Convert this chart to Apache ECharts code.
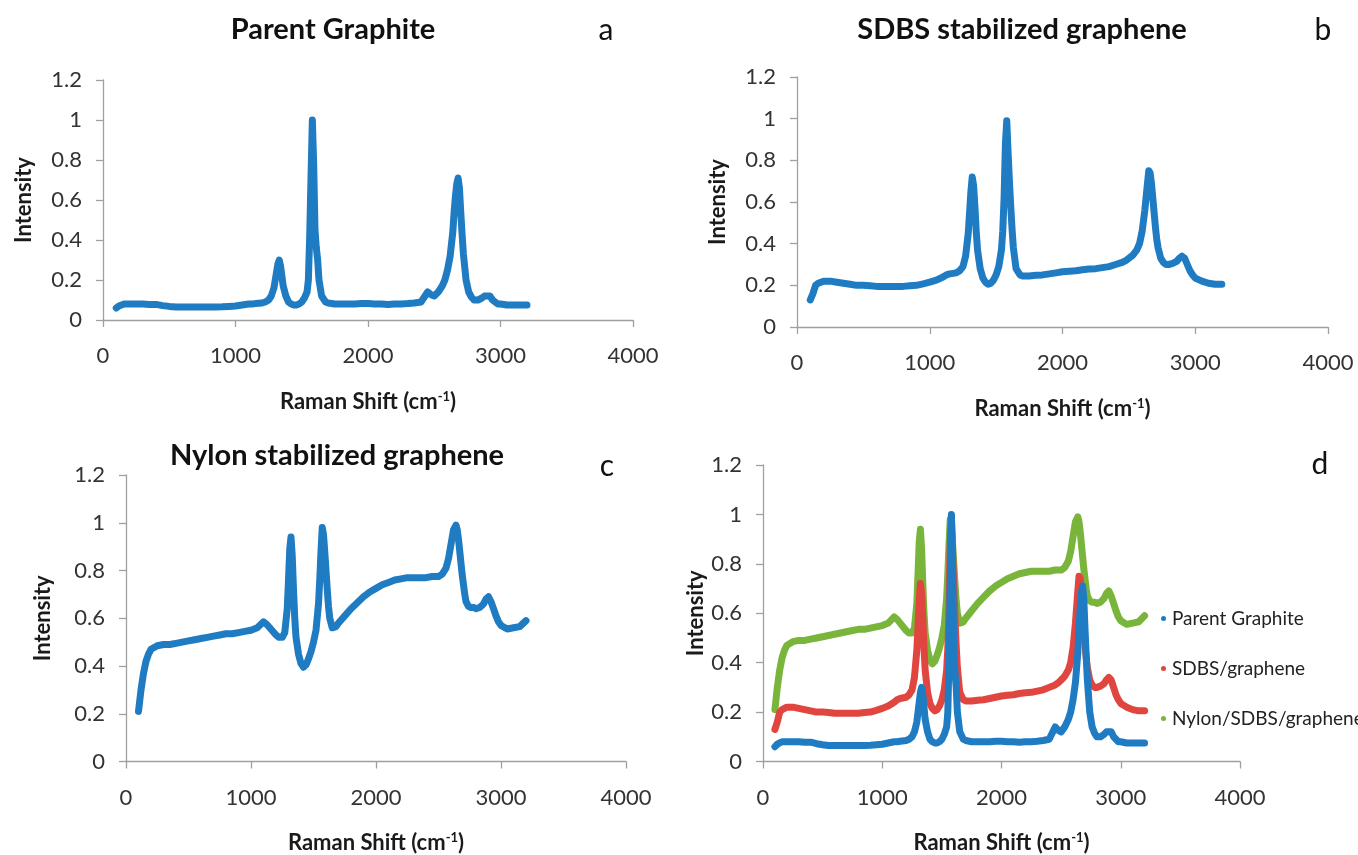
<!DOCTYPE html>
<html>
<head>
<meta charset="utf-8">
<script src="https://cdn.jsdelivr.net/npm/echarts@6/dist/echarts.min.js"></script>
<style>
  html, body { margin: 0; padding: 0; background: #fff; }
  #chart { width: 1358px; height: 855px; }
</style>
</head>
<body>
<div id="chart"></div>
<script>
// Raman shift positions (cm-1) shared by the three spectra
const shift = [
  100, 120, 140, 160, 180, 200, 250, 300, 350, 400, 450, 500, 550, 600, 650, 700, 750, 800, 850, 900,
  950, 1000, 1050, 1100, 1125, 1150, 1200, 1225, 1250, 1270, 1290, 1300, 1310, 1320, 1330, 1340, 1350, 1360, 1380, 1400,
  1420, 1440, 1460, 1480, 1500, 1520, 1540, 1550, 1560, 1570, 1580, 1590, 1600, 1610, 1620, 1630, 1650, 1680, 1700, 1750,
  1800, 1850, 1900, 1950, 2000, 2050, 2100, 2150, 2200, 2250, 2300, 2350, 2400, 2450, 2480, 2500, 2530, 2560, 2580, 2600,
  2620, 2640, 2650, 2660, 2670, 2680, 2690, 2700, 2710, 2720, 2740, 2760, 2780, 2800, 2830, 2860, 2880, 2900, 2920, 2940,
  2960, 2980, 3000, 3050, 3100, 3150, 3200
]

// Parent graphite
const graphite = [
  0.06, 0.07, 0.075, 0.08, 0.08, 0.08, 0.08, 0.08, 0.078, 0.078, 0.072, 0.068, 0.065, 0.065, 0.065, 0.065, 0.065, 0.065, 0.065, 0.066,
  0.068, 0.07, 0.075, 0.08, 0.08, 0.082, 0.085, 0.09, 0.1, 0.12, 0.16, 0.2, 0.24, 0.28, 0.3, 0.27, 0.22, 0.17, 0.12, 0.09,
  0.08, 0.075, 0.075, 0.08, 0.09, 0.11, 0.14, 0.2, 0.42, 0.72, 1.0, 0.78, 0.45, 0.36, 0.3, 0.2, 0.12, 0.09, 0.085, 0.08,
  0.08, 0.08, 0.08, 0.082, 0.082, 0.08, 0.08, 0.078, 0.08, 0.08, 0.082, 0.085, 0.09, 0.14, 0.125, 0.12, 0.14, 0.17, 0.2, 0.25,
  0.32, 0.44, 0.54, 0.62, 0.68, 0.71, 0.66, 0.54, 0.43, 0.33, 0.2, 0.14, 0.115, 0.1, 0.1, 0.11, 0.12, 0.12, 0.12, 0.1,
  0.09, 0.08, 0.08, 0.075, 0.075, 0.075, 0.075
]

// SDBS stabilized graphene
const sdbs = [
  0.13, 0.16, 0.2, 0.21, 0.215, 0.22, 0.22, 0.215, 0.21, 0.205, 0.2, 0.2, 0.198, 0.195, 0.195, 0.195, 0.195, 0.195, 0.198, 0.2,
  0.207, 0.215, 0.225, 0.24, 0.25, 0.255, 0.26, 0.27, 0.29, 0.34, 0.45, 0.55, 0.65, 0.72, 0.68, 0.58, 0.46, 0.37, 0.28, 0.235,
  0.215, 0.205, 0.21, 0.225, 0.25, 0.29, 0.37, 0.46, 0.62, 0.88, 0.99, 0.84, 0.7, 0.58, 0.47, 0.38, 0.28, 0.25, 0.245, 0.245,
  0.248, 0.25, 0.255, 0.26, 0.265, 0.268, 0.27, 0.275, 0.278, 0.28, 0.285, 0.29, 0.3, 0.31, 0.32, 0.33, 0.345, 0.37, 0.4, 0.46,
  0.56, 0.69, 0.75, 0.74, 0.69, 0.62, 0.55, 0.48, 0.42, 0.38, 0.33, 0.31, 0.3, 0.3, 0.305, 0.315, 0.33, 0.34, 0.33, 0.3,
  0.27, 0.25, 0.235, 0.22, 0.21, 0.205, 0.205
]

// Nylon stabilized graphene
const nylon = [
  0.21, 0.3, 0.37, 0.42, 0.45, 0.47, 0.485, 0.49, 0.49, 0.495, 0.5, 0.505, 0.51, 0.515, 0.52, 0.525, 0.53, 0.535, 0.535, 0.54,
  0.545, 0.55, 0.56, 0.585, 0.575, 0.56, 0.53, 0.52, 0.52, 0.54, 0.64, 0.76, 0.89, 0.94, 0.86, 0.72, 0.6, 0.52, 0.45, 0.41,
  0.395, 0.405, 0.43, 0.46, 0.5, 0.55, 0.66, 0.76, 0.88, 0.98, 0.95, 0.88, 0.8, 0.72, 0.65, 0.6, 0.56, 0.565, 0.58, 0.61,
  0.64, 0.665, 0.69, 0.71, 0.725, 0.74, 0.75, 0.76, 0.765, 0.77, 0.77, 0.77, 0.77, 0.775, 0.775, 0.775, 0.785, 0.81, 0.85, 0.91,
  0.97, 0.99, 0.97, 0.93, 0.88, 0.83, 0.78, 0.74, 0.7, 0.67, 0.65, 0.645, 0.645, 0.64, 0.645, 0.66, 0.68, 0.69, 0.67, 0.64,
  0.61, 0.585, 0.57, 0.555, 0.56, 0.565, 0.59
]

const xTicks = [0, 1000, 2000, 3000, 4000]
const yTicks = [0, 0.2, 0.4, 0.6, 0.8, 1, 1.2]
const panelTitles = ['Parent Graphite', 'SDBS stabilized graphene', 'Nylon stabilized graphene']
const panelLetters = ['a', 'b', 'c', 'd']
const legendNames = ['Parent Graphite', 'SDBS/graphene', 'Nylon/SDBS/graphene']

const BLUE = '#1f7bc2'
const RED = '#e0463f'
const GREEN = '#79b43b'
const FONT = 'Lato, "Noto Sans", sans-serif'
const AXIS_GREY = '#a0a0a0'

const toPoints = (ys) => shift.map((x, i) => [x, ys[i]])

// grid placement for the four panels
const grids = [
  { left: 103, top: 80, width: 530, height: 240 },
  { left: 797, top: 77, width: 531, height: 250 },
  { left: 126, top: 475, width: 500, height: 288 },
  { left: 763, top: 465, width: 477, height: 305 }
]
const nameGapsY = [68, 68, 72, 55]

const chart = echarts.init(document.getElementById('chart'))

const xAxes = grids.map((g, i) => ({
  gridIndex: i,
  type: 'value',
  min: xTicks[0],
  max: xTicks[xTicks.length - 1],
  interval: xTicks[1] - xTicks[0],
  name: 'Raman Shift (cm{sup|-1})',
  nameLocation: 'middle',
  nameGap: 70,
  nameTextStyle: {
    fontFamily: FONT, fontSize: 22, fontWeight: 'bold', color: '#1a1a1a',
    rich: { sup: { fontFamily: FONT, fontSize: 13, fontWeight: 'bold', color: '#1a1a1a', verticalAlign: 'top', padding: [0, 0, 10, 0] } }
  },
  axisLine: { lineStyle: { color: AXIS_GREY, width: 1.3 } },
  axisTick: { show: true, inside: false, length: 7, lineStyle: { color: AXIS_GREY, width: 1.3 } },
  axisLabel: { fontFamily: FONT, fontSize: 22, color: '#333', margin: 25, formatter: (v) => String(v) },
  splitLine: { show: false }
}))

const yAxes = grids.map((g, i) => ({
  gridIndex: i,
  type: 'value',
  min: yTicks[0],
  max: yTicks[yTicks.length - 1],
  interval: 0.2,
  name: 'Intensity',
  nameLocation: 'middle',
  nameGap: nameGapsY[i],
  nameTextStyle: { fontFamily: FONT, fontSize: 22, fontWeight: 'bold', color: '#1a1a1a' },
  axisLine: { show: true, lineStyle: { color: AXIS_GREY, width: 1.3 } },
  axisTick: { show: true, inside: false, length: 7, lineStyle: { color: AXIS_GREY, width: 1.3 } },
  axisLabel: { fontFamily: FONT, fontSize: 22, color: '#333', margin: 21 },
  splitLine: { show: false }
}))

const lineSeries = (name, ys, color, idx) => ({
  name: name,
  type: 'line',
  xAxisIndex: idx,
  yAxisIndex: idx,
  data: toPoints(ys),
  showSymbol: false,
  symbol: 'circle',
  symbolSize: 6,
  itemStyle: { color: color },
  lineStyle: { color: color, width: 7, join: 'round', cap: 'round' },
  animation: false
})

const titlePos = [
  { x: 333, y: 30 }, { x: 1022, y: 30 }, { x: 337, y: 456 }
]
const letterPos = [
  { x: 606, y: 30 }, { x: 1323, y: 30 }, { x: 607, y: 466 }, { x: 1320, y: 464 }
]

const graphics = []
titlePos.forEach((p, i) => {
  graphics.push({
    type: 'text', x: p.x, y: p.y,
    style: { text: panelTitles[i], fontFamily: FONT, fontSize: 29, fontWeight: 'bold', fill: '#111', textAlign: 'center', textVerticalAlign: 'middle' }
  })
})
letterPos.forEach((p, i) => {
  graphics.push({
    type: 'text', x: p.x, y: p.y,
    style: { text: panelLetters[i], fontFamily: FONT, fontSize: 30, fill: '#111', textAlign: 'center', textVerticalAlign: 'middle' }
  })
})

const option = {
  backgroundColor: '#fff',
  animation: false,
  grid: grids,
  xAxis: xAxes,
  yAxis: yAxes,
  legend: {
    data: legendNames,
    orient: 'vertical',
    left: 1156,
    top: 604,
    itemGap: 31,
    itemWidth: 5,
    itemHeight: 5,
    icon: 'circle',
    textStyle: { fontFamily: FONT, fontSize: 19, color: '#222', padding: [0, 0, 0, 1] }
  },
  graphic: graphics,
  series: [
    lineSeries('a', graphite, BLUE, 0),
    lineSeries('b', sdbs, BLUE, 1),
    lineSeries('c', nylon, BLUE, 2),
    lineSeries(legendNames[2], nylon, GREEN, 3),
    lineSeries(legendNames[1], sdbs, RED, 3),
    lineSeries(legendNames[0], graphite, BLUE, 3)
  ]
}

chart.setOption(option)
window.addEventListener('resize', () => chart.resize())
</script>
</body>
</html>
